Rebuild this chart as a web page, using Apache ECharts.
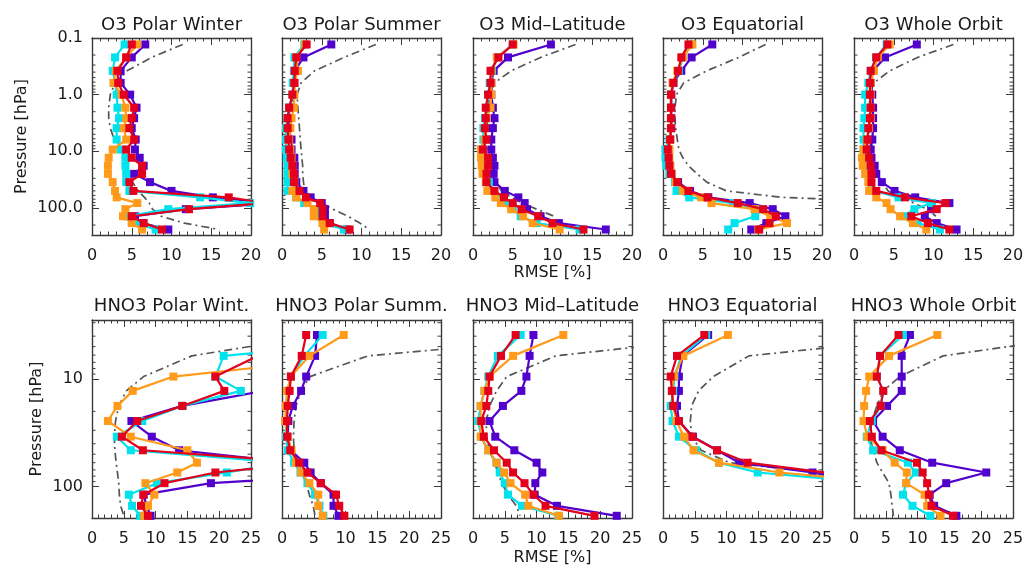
<!DOCTYPE html>
<html>
<head>
<meta charset="utf-8">
<title>RMSE profiles</title>
<script src="https://cdn.jsdelivr.net/npm/echarts@6/dist/echarts.min.js"></script>
<style>
  html, body { margin: 0; padding: 0; background: #ffffff; }
  #chart { width: 1026px; height: 572px; }
</style>
</head>
<body>
<div id="chart"></div>
<script>
// Pressure levels (hPa) of the retrieval grids
const levelsO3 = [0.13, 0.22, 0.38, 0.62, 1.0, 1.7, 2.6, 3.9, 6.2, 9.3, 13, 18, 25, 35, 50, 65, 82, 105, 140, 185, 240];
const levelsHNO3 = [3.9, 6.1, 9.5, 12.9, 17.8, 24.6, 34.4, 46, 60, 74, 93, 119, 151, 187];

// Pressure axis tick labels
const o3PressureTicks = [0.1, 1, 10, 100];
const o3PressureLabels = ['0.1', '1.0', '10.0', '100.0'];
const hno3PressureTicks = [10, 100];
const hno3PressureLabels = ['10', '100'];

// RMSE [%] per level; each panel holds [purple, red, cyan, orange, dash-dot reference]
const o3PolarWinter = [
  [6.7, 5.0, 3.6, 3.6, 4.8, 5.6, 5.3, 5.0, 5.5, 5.4, 6.0, 6.5, 5.3, 7.3, 10.0, 15.2, 23, 11.8, 5.4, 6.3, 9.6],
  [5.0, 4.3, 3.2, 3.3, 4.0, 5.3, 5.0, 4.7, 5.3, 4.3, 5.0, 6.3, 6.3, 4.7, 5.2, 17.2, 22, 12.2, 5.0, 6.5, 8.8],
  [4.1, 2.9, 2.6, 2.9, 3.1, 3.2, 3.4, 3.1, 3.1, 3.6, 4.2, 4.2, 4.3, 4.3, 4.7, 13.6, 19.9, 9.6, 4.4, 5.5, 8.0],
  [5.7, 4.3, 3.0, 2.7, 3.7, 4.2, 4.3, 4.0, 4.3, 2.6, 2.1, 2.0, 2.0, 2.6, 2.9, 3.1, 5.7, 4.2, 3.9, 5.0, 6.3],
  [11.4, 7.5, 4.4, 2.9, 2.3, 2.1, 2.1, 2.3, 2.8, 3.4, 3.9, 4.3, 4.6, 5.1, 5.8, 6.6, 7.2, 7.6, 8.7, 11.6, 16.0]
];
const o3PolarSummer = [
  [6.2, 2.7, 1.6, 1.55, 1.5, 0.9, 0.9, 0.8, 1.2, 1.2, 1.55, 1.6, 1.6, 1.8, 2.7, 3.6, 5.0, 5.4, 5.4, 6.0, 8.2],
  [3.1, 1.8, 1.6, 1.55, 1.3, 0.9, 0.7, 0.7, 0.8, 0.9, 1.1, 1.3, 1.5, 1.5, 2.2, 3.0, 4.8, 5.1, 5.1, 6.0, 8.5],
  [2.8, 1.55, 1.5, 1.35, 1.35, 0.9, 0.7, 0.5, 0.5, 0.5, 0.6, 0.7, 0.7, 0.7, 0.7, 1.8, 2.8, 4.3, 4.7, 5.3, 7.8],
  [2.9, 1.8, 2.0, 1.55, 1.55, 1.5, 1.2, 1.05, 0.9, 1.05, 1.2, 1.3, 1.3, 1.55, 1.3, 1.8, 3.2, 4.0, 4.0, 5.1, 5.3],
  [11.8, 7.8, 4.1, 2.4, 1.9, 2.0, 2.1, 2.2, 2.3, 2.4, 2.5, 2.6, 2.6, 2.7, 2.9, 3.5, 5.0, 6.4, 8.3, 9.8, 11.0]
];
const o3MidLatitude = [
  [9.8, 4.4, 2.6, 2.3, 2.3, 2.5, 2.7, 2.5, 2.3, 2.3, 2.5, 2.7, 2.6, 2.7, 4.0, 5.7, 6.5, 6.8, 8.5, 10.8, 16.7],
  [5.0, 3.2, 2.2, 2.2, 1.9, 1.6, 1.6, 1.5, 1.7, 1.25, 1.9, 1.9, 1.7, 1.7, 2.7, 3.9, 5.0, 6.1, 8.2, 10.0, 13.9],
  [5.0, 3.0, 2.4, 2.1, 1.9, 1.7, 1.5, 1.3, 1.3, 1.0, 1.2, 1.3, 1.5, 2.0, 2.4, 3.0, 4.0, 5.0, 6.0, 8.0, 13.4],
  [5.1, 3.0, 2.3, 2.3, 2.3, 2.2, 1.7, 1.5, 1.5, 1.0, 1.0, 1.1, 1.2, 1.6, 1.8, 2.8, 3.5, 4.8, 6.3, 7.5, 10.9],
  [12.9, 8.5, 4.8, 2.7, 2.1, 1.9, 1.8, 1.8, 1.8, 1.9, 2.0, 2.1, 2.3, 2.8, 3.6, 4.8, 6.2, 8.0, 10.2]
];
const o3Equatorial = [
  [6.2, 3.6, 2.3, 1.3, 1.05, 1.05, 1.05, 1.05, 0.9, 0.7, 0.7, 0.9, 1.1, 1.9, 3.4, 5.7, 10.9, 13.8, 15.4, 13.0, 11.1],
  [3.2, 2.3, 1.9, 1.3, 1.0, 1.0, 1.0, 1.0, 0.9, 0.6, 0.7, 0.8, 1.0, 1.8, 3.2, 5.6, 9.4, 12.6, 14.2, 13.4, 12.1],
  [3.5, 2.5, 2.0, 1.3, 1.0, 1.0, 1.0, 1.0, 0.8, 0.3, 0.3, 0.4, 0.8, 1.5, 1.7, 3.3, 8.8, 12.3, 11.6, 9.0, 8.2],
  [3.7, 2.5, 1.8, 1.2, 1.0, 1.0, 1.0, 1.0, 0.9, 0.8, 0.8, 0.9, 1.1, 1.6, 2.5, 4.8, 6.1, 11.5, 13.5, 15.6, 12.0],
  [12.9, 9.5, 5.5, 2.6, 1.7, 1.5, 1.5, 1.6, 1.8, 2.0, 2.5, 3.2, 4.3, 5.5, 8.0, 15.0, 34]
];
const o3WholeOrbit = [
  [7.9, 3.9, 2.4, 2.1, 2.3, 2.4, 2.4, 2.4, 2.3, 2.1, 2.2, 2.6, 2.8, 3.5, 5.1, 7.7, 12.0, 9.7, 8.9, 10.4, 12.9],
  [4.2, 2.8, 2.1, 2.0, 2.0, 2.1, 2.0, 1.8, 1.7, 1.6, 1.9, 2.1, 2.2, 2.2, 2.8, 6.4, 11.5, 10.4, 7.2, 9.3, 12.0],
  [4.1, 2.8, 2.1, 1.8, 1.4, 1.4, 1.3, 1.2, 1.2, 1.2, 1.4, 1.6, 1.8, 2.0, 2.6, 5.6, 9.8, 7.6, 6.2, 8.0, 10.8],
  [4.5, 3.0, 2.5, 2.1, 2.1, 2.1, 2.1, 1.9, 1.6, 1.2, 1.0, 1.1, 1.4, 1.8, 1.9, 2.8, 4.1, 4.6, 5.8, 7.4, 9.1],
  [12.5, 8.0, 4.5, 2.5, 2.0, 1.9, 1.9, 1.9, 2.0, 2.1, 2.3, 2.6, 2.9, 3.5, 4.3, 5.8, 7.5, 9.2, 10.3]
];
const hno3PolarWinter = [
  [null, null, null, 27, 14.2, 6.2, 9.4, 13.7, 31.4, 47, 18.7, 8.1, 8.6, 9.2],
  [null, 26.1, 19.4, 20.8, 14.2, 7.1, 4.7, 8.0, 34.6, 19.4, 11.4, 8.1, 7.7, 8.8],
  [57, 20.7, 19.4, 23.4, 14.2, 7.9, 3.9, 6.1, 30.4, 21.2, 10.2, 5.8, 6.3, 7.6],
  [null, 43, 12.8, 6.4, 4.0, 2.5, 6.1, 15.0, 16.5, 13.4, 8.4, 9.8, 8.8, 8.2],
  [36, 15.7, 8.1, 5.4, 4.2, 3.7, 3.5, 3.6, 3.8, 4.0, 4.2, 4.3, 4.5, 5.0]
];
const hno3PolarSummer = [
  [5.5, 5.2, 3.8, 3.0, 1.7, 1.0, 0.9, 1.4, 3.5, 4.5, 6.1, 8.1, 8.1, 8.9],
  [3.8, 3.1, 1.4, 1.2, 0.9, 0.8, 0.8, 1.3, 2.7, 4.0, 6.1, 8.5, 9.0, 9.8],
  [6.4, 3.5, 1.4, 0.9, 0.8, 0.6, 0.6, 0.9, 1.9, 2.9, 4.0, 5.2, 5.9, 6.5],
  [9.7, 4.3, 1.4, 0.8, 0.6, 0.5, 0.9, 1.5, 2.2, 3.0, 4.3, 5.7, 5.7, 6.4],
  [50, 13.5, 4.4, 3.0, 2.2, 1.9, 1.8, 1.9, 2.4, 3.2, 3.8, 4.3, 4.9, 5.2]
];
const hno3MidLatitude = [
  [9.5, 8.9, 8.4, 7.6, 4.7, 2.6, 3.5, 6.5, 10.0, 10.9, 9.8, 9.7, 13.2, 22.6],
  [6.7, 4.4, 2.6, 2.4, 2.1, 1.3, 1.7, 3.3, 5.3, 6.3, 8.1, 9.5, 11.4, 19.1],
  [7.5, 3.9, 2.4, 1.8, 1.2, 0.8, 1.3, 2.4, 3.7, 4.2, 5.0, 5.5, 7.7, 13.4],
  [14.2, 6.3, 2.6, 1.8, 1.2, 1.2, 1.2, 2.4, 3.7, 4.9, 5.9, 8.2, 8.7, 13.5],
  [43, 13.0, 5.3, 3.7, 2.6, 2.1, 2.1, 2.6, 3.3, 4.0, 4.5, 5.5, 6.8, 7.4]
];
const hno3Equatorial = [
  [7.1, 3.1, 2.5, 2.5, 2.2, 2.5, 4.7, 8.5, 12.0, 23.5, 33],
  [6.5, 2.2, 1.2, 1.4, 1.6, 2.5, 4.6, 8.5, 13.3, 25.5, 40],
  [6.8, 2.9, 1.8, 1.6, 1.2, 1.5, 2.5, 5.2, 8.8, 14.9, 34],
  [10.2, 3.2, 1.7, 1.4, 1.6, 2.1, 3.3, 4.8, 8.8, 18.3, 36],
  [45, 13.5, 7.9, 5.6, 4.5, 4.3, 4.5, 6.0, 10.5, 24.5, 45]
];
const hno3WholeOrbit = [
  [8.8, 7.5, 7.5, 7.5, 5.2, 3.0, 4.5, 7.2, 12.3, 20.8, 14.5, 11.9, 12.6, 16.1],
  [7.0, 4.1, 3.6, 4.6, 4.2, 2.5, 2.8, 4.3, 9.9, 10.8, 11.5, 11.8, 12.2, 15.6],
  [7.7, 4.1, 3.6, 4.6, 4.2, 2.8, 2.0, 3.0, 8.5, 9.7, 8.2, 7.7, 9.2, 12.0],
  [13.1, 5.5, 2.4, 1.9, 1.6, 1.5, 2.1, 4.5, 6.4, 8.3, 8.2, 11.1, 11.5, 13.6],
  [37, 14.0, 7.2, 4.6, 3.6, 2.8, 2.5, 3.0, 3.6, 4.5, 5.5, 5.8, 6.0, 6.2]
];

const panels = [
  { title: 'O3 Polar Winter', row: 0, col: 0, curves: o3PolarWinter },
  { title: 'O3 Polar Summer', row: 0, col: 1, curves: o3PolarSummer },
  { title: 'O3 Mid\u2013Latitude', row: 0, col: 2, curves: o3MidLatitude },
  { title: 'O3 Equatorial', row: 0, col: 3, curves: o3Equatorial },
  { title: 'O3 Whole Orbit', row: 0, col: 4, curves: o3WholeOrbit },
  { title: 'HNO3 Polar Wint.', row: 1, col: 0, curves: hno3PolarWinter },
  { title: 'HNO3 Polar Summ.', row: 1, col: 1, curves: hno3PolarSummer },
  { title: 'HNO3 Mid\u2013Latitude', row: 1, col: 2, curves: hno3MidLatitude },
  { title: 'HNO3 Equatorial', row: 1, col: 3, curves: hno3Equatorial },
  { title: 'HNO3 Whole Orbit', row: 1, col: 4, curves: hno3WholeOrbit }
];

// ---- styling / layout ----
const FONT = '"DejaVu Sans", sans-serif';
const AX = '#3a3a3a';
const TXT = '#1a1a1a';
const COLORS = ['#5200cc', '#e2001c', '#00e2ec', '#ff9a1a', '#555555'];
const DRAW_ORDER = [4, 0, 2, 3, 1];
const COL_LEFT = [92, 282, 473, 663, 854];
const PANEL_W = 159;
const rows = [
  { top: 38, height: 197, levels: levelsO3, pMin: 0.1, pMax: 300, xMax: 20,
    ticks: o3PressureTicks, labels: o3PressureLabels, titleY: 25, yNameGap: 62, xNameGap: 28 },
  { top: 320, height: 198, levels: levelsHNO3, pMin: 2.83, pMax: 196, xMax: 25,
    ticks: hno3PressureTicks, labels: hno3PressureLabels, titleY: 306, yNameGap: 47, xNameGap: 32 }
];

function pressureLabel(row) {
  return function (v) {
    const i = row.ticks.findIndex(t => Math.abs(v - t) / t < 1e-6);
    return i >= 0 ? row.labels[i] : '';
  };
}

function minorPressures(min, max) {
  const out = [];
  for (let e = -2; e <= 3; e++) {
    for (let m = 2; m <= 9; m++) {
      const v = m * Math.pow(10, e);
      if (v > min * 1.0001 && v < max * 0.9999) out.push(v);
    }
  }
  return out;
}

const grid = [], xAxis = [], yAxis = [], series = [], graphic = [];
const textStyle = { fontFamily: FONT, fontSize: 16, color: TXT };

panels.forEach((p, i) => {
  const row = rows[p.row];
  const left = COL_LEFT[p.col];
  grid.push({ left: left, top: row.top, width: PANEL_W, height: row.height, outerBoundsMode: 'none', containLabel: false });

  const xBase = {
    type: 'value', gridIndex: i, min: 0, max: row.xMax, interval: 5,
    axisLine: { show: true, onZero: false, lineStyle: { color: AX, width: 1.4 } },
    axisTick: { show: true, inside: true, length: 7, lineStyle: { color: AX, width: 1 } },
    minorTick: { show: true, splitNumber: 5, length: 3.5, lineStyle: { color: AX, width: 1 } },
    splitLine: { show: false }, minorSplitLine: { show: false }
  };
  xAxis.push(Object.assign({}, xBase, {
    position: 'bottom',
    axisLabel: { show: true, margin: 13, showMinLabel: true, showMaxLabel: true, hideOverlap: false, ...textStyle },
    name: p.col === 2 ? 'RMSE [%]' : '', nameLocation: 'middle', nameGap: row.xNameGap,
    nameTextStyle: textStyle
  }));
  xAxis.push(Object.assign({}, xBase, { position: 'top', axisLabel: { show: false } }));

  const yBase = {
    type: 'log', logBase: 10, gridIndex: i, min: row.pMin, max: row.pMax, inverse: true,
    axisLine: { show: true, onZero: false, lineStyle: { color: AX, width: 1.4 } },
    axisTick: { show: true, inside: true, length: 7, lineStyle: { color: AX, width: 1 } },
    minorTick: { show: false }, splitLine: { show: false }, minorSplitLine: { show: false }
  };
  yAxis.push(Object.assign({}, yBase, {
    position: 'left',
    axisLabel: { show: p.col === 0, interval: 0, margin: 9, formatter: pressureLabel(row),
                 showMinLabel: true, showMaxLabel: true, hideOverlap: false, ...textStyle },
    name: p.col === 0 ? 'Pressure [hPa]' : '', nameLocation: 'middle', nameGap: row.yNameGap,
    nameTextStyle: textStyle
  }));
  yAxis.push(Object.assign({}, yBase, { position: 'right', axisLabel: { show: false } }));

  // minor log ticks (2..9 per decade) on both vertical frame edges
  series.push({
    type: 'custom', xAxisIndex: 2 * i, yAxisIndex: 2 * i, silent: true, clip: false, z: 1,
    data: minorPressures(row.pMin, row.pMax).map(v => [0, v]),
    renderItem: function (params, api) {
      const cs = params.coordSys;
      const y = api.coord([0, api.value(1)])[1];
      const st = { stroke: AX, lineWidth: 1 };
      return {
        type: 'group',
        children: [
          { type: 'line', shape: { x1: cs.x, y1: y, x2: cs.x + 3.5, y2: y }, style: st },
          { type: 'line', shape: { x1: cs.x + cs.width - 3.5, y1: y, x2: cs.x + cs.width, y2: y }, style: st }
        ]
      };
    }
  });

  DRAW_ORDER.forEach((k, order) => {
    const values = p.curves[k];
    const data = [];
    values.forEach((v, j) => { if (v !== null && v !== undefined) data.push([v, row.levels[j]]); });
    const isRef = k === 4;
    series.push({
      type: 'line', xAxisIndex: 2 * i, yAxisIndex: 2 * i, data: data, clip: true,
      z: 2 + order, silent: true,
      symbol: isRef ? 'none' : 'rect', symbolSize: 8, showSymbol: !isRef,
      lineStyle: isRef ? { color: COLORS[k], width: 1.7, type: [8, 4, 2, 4] }
                       : { color: COLORS[k], width: 2.2 },
      itemStyle: { color: COLORS[k] }
    });
  });

  graphic.push({
    type: 'text', x: left + PANEL_W / 2, y: row.titleY, silent: true,
    style: { text: p.title, align: 'center', verticalAlign: 'middle',
             font: '18px "DejaVu Sans", sans-serif', fill: TXT }
  });
});

const chart = echarts.init(document.getElementById('chart'), null, { renderer: 'canvas' });
chart.setOption({
  animation: false,
  backgroundColor: '#ffffff',
  grid: grid,
  xAxis: xAxis,
  yAxis: yAxis,
  series: series,
  graphic: graphic
});
</script>
</body>
</html>
